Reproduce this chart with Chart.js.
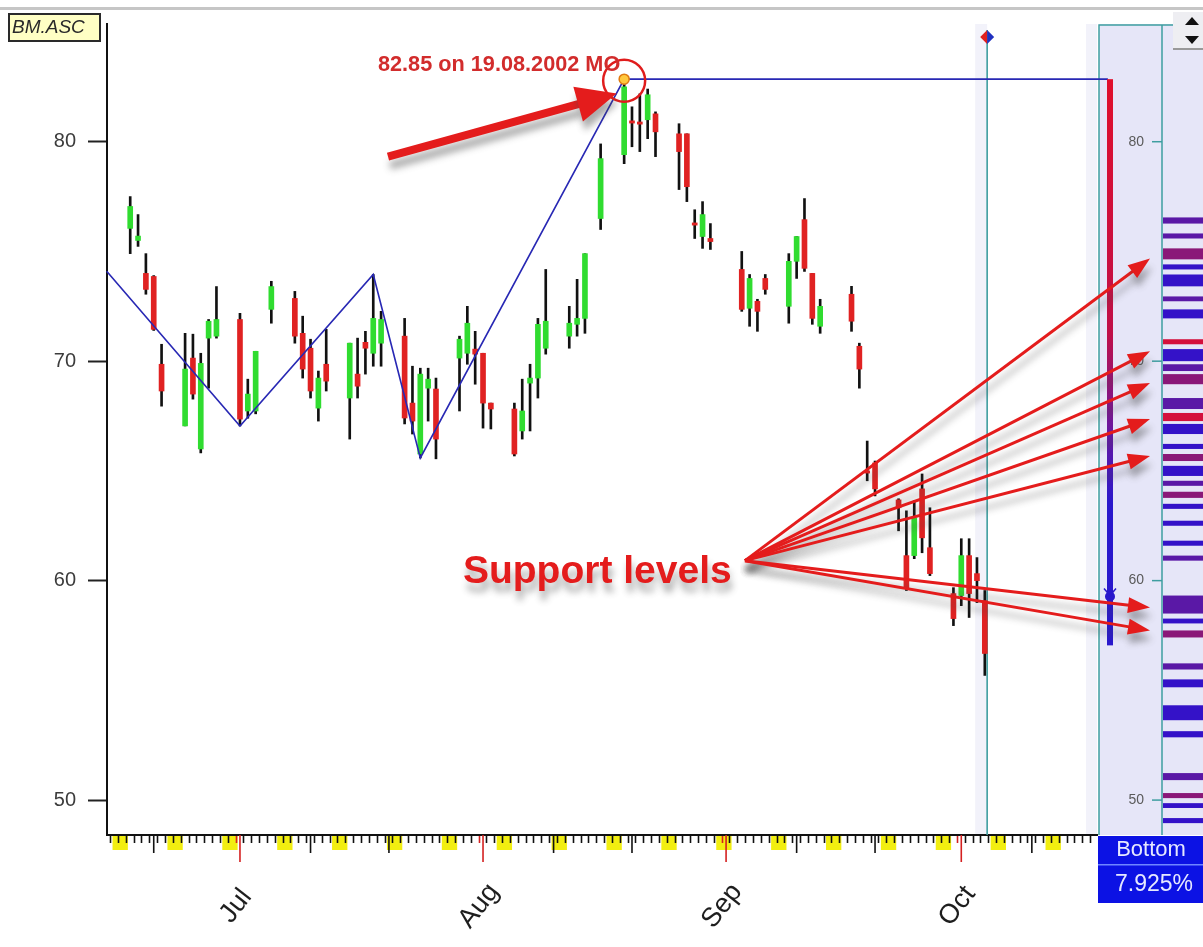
<!DOCTYPE html>
<html><head><meta charset="utf-8">
<script src="https://cdn.jsdelivr.net/npm/chart.js@4/dist/chart.umd.min.js"></script>
<style>html,body{margin:0;padding:0;background:#fff;overflow:hidden}#wrap{position:relative;width:1203px;height:947px}canvas{display:block}</style>
</head><body><div id="wrap"><canvas id="c" width="1203" height="947"></canvas></div>
<script>
// ---- DATA (x = trading day, counted in calendar days from 1 Jul 2002) ----
const tradingDays = [-14,-13,-12,-11,-10,-7,-6,-5,-4,-3,0,1,2,4,7,8,9,10,11,14,15,16,17,18,21,22,23,24,25,28,29,30,31,32,35,36,37,38,39,42,43,44,46,49,50,51,52,53,56,57,58,59,60,64,65,66,67,70,71,72,73,74,78,79,80,81,84,85,86,87,88,91,92,93,94,95];
const opens  = [76.05,75.5,74.0,73.86,69.86,67.05,70.14,66.0,71.05,71.14,71.9,67.73,67.73,72.36,72.86,71.27,70.59,67.86,69.86,68.32,69.41,70.86,70.36,70.82,71.14,68.09,65.77,68.77,68.73,70.14,70.36,70.55,70.36,68.09,67.82,66.82,69.0,69.23,70.59,71.14,71.68,71.95,76.5,79.41,80.95,80.9,81.0,81.27,80.36,80.36,76.3,75.68,75.59,74.18,72.41,72.73,73.77,72.5,74.55,76.45,74.0,71.59,73.05,70.68,65.0,65.36,63.68,61.14,61.14,64.18,61.5,59.41,59.32,61.14,60.32,59.09];
const highs  = [77.5,76.68,74.9,73.9,70.77,71.27,71.23,70.36,71.9,73.4,72.18,69.18,70.45,73.64,73.18,72.05,71.0,69.55,71.45,70.82,71.05,71.36,73.95,72.27,71.95,69.77,69.68,69.68,69.23,71.14,72.5,71.36,70.36,68.09,68.09,69.18,69.86,71.95,74.18,72.5,73.73,74.9,79.9,82.85,81.59,82.18,82.4,81.36,80.82,80.36,76.9,77.27,76.27,75.0,73.95,72.82,73.95,74.9,75.68,77.41,74.0,72.82,73.41,70.82,66.36,65.45,63.73,63.18,63.64,64.86,63.32,59.68,61.91,61.91,61.05,59.55];
const lows   = [74.9,75.23,73.05,71.4,67.95,67.05,68.27,65.82,68.77,71.05,67.05,67.4,67.6,71.73,70.82,69.23,68.32,67.27,68.64,66.45,68.32,69.41,69.77,69.77,67.14,66.68,65.59,67.27,65.55,67.73,69.86,68.95,66.95,66.91,65.68,66.45,66.82,68.32,70.32,70.59,71.14,71.27,76.0,79.0,79.77,79.55,80.14,79.32,77.82,77.27,75.59,75.14,75.09,72.27,71.59,71.36,73.05,71.73,73.77,74.09,71.68,71.27,71.36,68.77,64.55,63.86,62.27,59.55,61.0,61.27,60.23,57.95,58.86,58.32,59.0,55.68];
const closes = [77.05,75.7,73.27,71.45,68.64,69.64,68.5,69.9,71.82,71.9,67.36,68.5,70.45,73.4,71.14,69.64,68.64,69.23,69.09,70.82,68.86,70.59,71.95,71.9,67.41,67.27,69.41,69.18,66.45,71.0,71.73,70.32,68.09,67.82,65.77,67.73,69.23,71.68,71.82,71.73,71.95,74.9,79.23,82.5,80.85,80.8,82.14,80.45,79.55,77.95,76.2,76.68,75.45,72.36,73.77,72.27,73.27,74.55,75.68,74.23,71.95,72.5,71.82,69.64,64.9,64.18,63.32,59.68,62.86,61.95,60.32,58.27,61.14,59.41,60.0,56.68];

// zig-zag swing line (day, price)
const zigDays   = [-17, 0, 17, 23, 49, 110.7];
const zigPrices = [74.1, 67.05, 73.95, 65.59, 82.85, 82.85];
const peakDay = 49, peakPrice = 82.85;
const peakText = '82.85 on 19.08.2002 MO';

// axis ticks / labels
const yTickValues = [50, 60, 70, 80];
const monthStartDays = [0, 31, 62, 92];
const monthLabels = ['Jul', 'Aug', 'Sep', 'Oct'];
const cursorDay = 95.3;

// support levels pointed at by arrows (price)
const supportPrices = [74.68, 70.45, 69.0, 67.36, 65.68, 58.77, 57.73];
const supportLabel = 'Support levels';

// price-distribution histogram on the right panel
const histLo  = [76.27,75.59,74.64,74.18,73.41,72.73,71.95,70.77,70.0,69.55,68.95,67.82,67.27,66.68,66.0,65.45,64.77,64.32,63.77,63.27,62.5,61.59,60.91,58.5,58.05,57.41,55.95,55.14,53.64,52.86,50.91,50.09,49.64,48.95];
const histHi  = [76.55,75.82,75.14,74.41,73.95,72.95,72.36,71.0,70.55,69.86,69.41,68.32,67.64,67.14,66.23,65.77,65.23,64.55,64.05,63.5,62.73,61.82,61.14,59.32,58.27,57.73,56.23,55.5,54.32,53.14,51.23,50.32,49.86,49.18];
const histKind= ['P','P','M','B','B','P','B','R','B','P','M','P','R','B','B','M','B','P','M','B','B','B','P','P','B','M','P','B','B','B','P','M','B','B'];
const gaugeTop = 82.85, gaugeBottom = 57.05, gaugeMark = 59.32;
const bottomTitle = 'Bottom', bottomValue = '7.925%';
const symbolName = 'BM.ASC';
</script>
<script>
const FONT = "'Liberation Sans', Arial, sans-serif";
Chart.defaults.font.family = FONT;
const allDays = []; for (let d = -16; d <= 109; d++) allDays.push(d);
const dateOf = d => new Date(2002, 6, 1 + d);
const histColors = {B:'#3412c8', P:'#5a18a6', M:'#8a1878', R:'#d4103c'};

function arrow(ctx, x1, y1, x2, y2, w, hl, hw, color) {
  const a = Math.atan2(y2 - y1, x2 - x1);
  const bx = x2 - hl * Math.cos(a), by = y2 - hl * Math.sin(a);
  ctx.strokeStyle = color; ctx.lineWidth = w; ctx.lineCap = 'butt';
  ctx.beginPath(); ctx.moveTo(x1, y1); ctx.lineTo(bx + Math.cos(a), by + Math.sin(a)); ctx.stroke();
  ctx.fillStyle = color; ctx.beginPath();
  ctx.moveTo(x2, y2);
  ctx.lineTo(bx + hw * Math.sin(a), by - hw * Math.cos(a));
  ctx.lineTo(bx - hw * Math.sin(a), by + hw * Math.cos(a));
  ctx.closePath(); ctx.fill();
}

const deco = {
  id: 'deco',
  beforeDraw(chart) {
    const ctx = chart.ctx, xs = chart.scales.x, ys = chart.scales.y, ca = chart.chartArea;
    const W = chart.width;
    ctx.save();
    ctx.fillStyle = '#fff'; ctx.fillRect(0, 0, W, chart.height);
    ctx.fillStyle = '#c6c6c6'; ctx.fillRect(0, 7, W, 3);
    ctx.fillStyle = '#f2f2fa';
    const cx = xs.getPixelForValue(cursorDay);
    ctx.fillRect(cx - 12, ca.top, 12, ca.bottom - ca.top);
    ctx.fillRect(ca.right - 11, ca.top, 11, ca.bottom - ca.top);
    const pL = ca.right + 2, pM = pL + 63;
    ctx.fillStyle = '#e6e6f8'; ctx.fillRect(pL, ca.top, W - pL, ca.bottom - ca.top);
    for (let i = 0; i < histLo.length; i++) {
      const y1 = ys.getPixelForValue(histHi[i]), y2 = ys.getPixelForValue(histLo[i]);
      ctx.fillStyle = histColors[histKind[i]];
      ctx.fillRect(pM + 1, y1, W - pM, y2 - y1);
    }
    ctx.strokeStyle = '#3e9ea0'; ctx.lineWidth = 1.5;
    ctx.beginPath();
    ctx.moveTo(pL, ca.bottom); ctx.lineTo(pL, ca.top + 1); ctx.lineTo(pM + 12, ca.top + 1);
    ctx.moveTo(pM, ca.top + 1); ctx.lineTo(pM, ca.bottom);
    ctx.stroke();
    ctx.font = '14px ' + FONT; ctx.fillStyle = '#5a5a5a'; ctx.textAlign = 'right'; ctx.textBaseline = 'middle';
    yTickValues.forEach(v => {
      const y = ys.getPixelForValue(v);
      ctx.fillText(String(v), pM - 18, y);
      ctx.beginPath(); ctx.moveTo(pM - 10, y); ctx.lineTo(pM, y); ctx.stroke();
    });
    ctx.fillStyle = '#eeeef2'; ctx.fillRect(W - 30, 12, 30, 38);
    ctx.fillStyle = '#999'; ctx.fillRect(W - 30, 48, 30, 2);
    ctx.fillStyle = '#111';
    ctx.beginPath(); ctx.moveTo(W - 18, 25); ctx.lineTo(W - 4, 25); ctx.lineTo(W - 11, 17); ctx.closePath(); ctx.fill();
    ctx.beginPath(); ctx.moveTo(W - 18, 36); ctx.lineTo(W - 4, 36); ctx.lineTo(W - 11, 44); ctx.closePath(); ctx.fill();
    ctx.fillStyle = '#0c12e4'; ctx.fillRect(pL - 1, ca.bottom + 1, W - pL + 1, 67);
    ctx.fillStyle = '#6f86ff'; ctx.fillRect(pL - 1, ca.bottom + 29, W - pL + 1, 1.5);
    ctx.fillStyle = '#e6e8ff'; ctx.textAlign = 'center'; ctx.textBaseline = 'middle';
    ctx.font = '22px ' + FONT;
    ctx.fillText(bottomTitle, pL + 52, ca.bottom + 15);
    ctx.font = '23px ' + FONT;
    ctx.fillText(bottomValue, pL + 55, ca.bottom + 50);
    ctx.fillStyle = '#ffffc4'; ctx.fillRect(9, 14, 91, 27);
    ctx.strokeStyle = '#2a2a2a'; ctx.lineWidth = 2; ctx.strokeRect(9, 14, 91, 27);
    ctx.fillStyle = '#2a2a2a'; ctx.textAlign = 'left';
    ctx.font = 'italic 19px ' + FONT; ctx.fillText(symbolName, 12, 28);
    ctx.fillStyle = '#f2ee10';
    allDays.forEach(d => {
      if (dateOf(d).getDay() === 6) {
        const x1 = xs.getPixelForValue(d) - 2, x2 = xs.getPixelForValue(d + 1) + 5.5;
        ctx.fillRect(x1, ca.bottom + 1, x2 - x1, 14);
      }
    });
    ctx.restore();
  },
  beforeDatasetsDraw(chart) {
    const ctx = chart.ctx, xs = chart.scales.x, ca = chart.chartArea;
    const cx = xs.getPixelForValue(cursorDay);
    ctx.save();
    ctx.strokeStyle = '#3e9ea0'; ctx.lineWidth = 1.6;
    ctx.beginPath(); ctx.moveTo(cx, 30); ctx.lineTo(cx, ca.bottom); ctx.stroke();
    ctx.restore();
  },
  afterDraw(chart) {
    const ctx = chart.ctx, xs = chart.scales.x, ys = chart.scales.y, ca = chart.chartArea;
    const X = v => xs.getPixelForValue(v), Y = v => ys.getPixelForValue(v);
    ctx.save();
    allDays.forEach(d => {
      const dt = dateOf(d).getDate();
      if (dt === 1 || dt === 10 || dt === 20) {
        ctx.strokeStyle = dt === 1 ? '#d42020' : '#111'; ctx.lineWidth = 1.6;
        ctx.beginPath(); ctx.moveTo(X(d), ca.bottom); ctx.lineTo(X(d), ca.bottom + (dt === 1 ? 27 : 18)); ctx.stroke();
      }
    });
    ctx.fillStyle = '#1e1e1e'; ctx.font = '27px ' + FONT; ctx.textAlign = 'center'; ctx.textBaseline = 'middle';
    monthStartDays.forEach((d, i) => {
      ctx.save(); ctx.translate(X(d) - 4, 906); ctx.rotate(-52 * Math.PI / 180);
      ctx.fillText(monthLabels[i], 0, 0); ctx.restore();
    });
    const gx = ca.right + 13;
    const g1 = Y(gaugeTop), g2 = Y(gaugeBottom);
    const grad = ctx.createLinearGradient(0, g1, 0, g2);
    grad.addColorStop(0, '#e0102c'); grad.addColorStop(0.45, '#c01048'); grad.addColorStop(0.62, '#6a18a0'); grad.addColorStop(0.75, '#2a18cc'); grad.addColorStop(1, '#2a18cc');
    ctx.fillStyle = grad; ctx.fillRect(gx - 3, g1, 6, g2 - g1);
    ctx.fillStyle = '#2a18cc'; ctx.beginPath(); ctx.arc(gx, Y(gaugeMark) + 1, 5, 0, Math.PI * 2); ctx.fill();
    ctx.strokeStyle = '#2a18cc'; ctx.lineWidth = 1.5;
    ctx.beginPath(); ctx.moveTo(gx - 6, Y(gaugeMark) - 7); ctx.lineTo(gx, Y(gaugeMark)); ctx.lineTo(gx + 6, Y(gaugeMark) - 7); ctx.stroke();
    const cx = X(cursorDay);
    ctx.fillStyle = '#e02020'; ctx.beginPath(); ctx.moveTo(cx, 30); ctx.lineTo(cx - 7, 37); ctx.lineTo(cx, 44); ctx.closePath(); ctx.fill();
    ctx.fillStyle = '#2030c0'; ctx.beginPath(); ctx.moveTo(cx, 30); ctx.lineTo(cx + 7, 37); ctx.lineTo(cx, 44); ctx.closePath(); ctx.fill();
    const ox = X(64.41), oy = Y(60.91), tx = X(116.07);
    ctx.shadowColor = 'rgba(70,70,70,0.45)'; ctx.shadowBlur = 7; ctx.shadowOffsetX = 2; ctx.shadowOffsetY = 9;
    supportPrices.forEach(p => arrow(ctx, ox, oy, tx, Y(p), 3, 22, 8, '#e41c1c'));
    arrow(ctx, X(18.88), Y(79.32), X(48.05), Y(82.2), 8, 40, 18, '#e41c1c');
    ctx.fillStyle = '#e41c1c'; ctx.textAlign = 'left'; ctx.textBaseline = 'alphabetic';
    ctx.font = 'bold 39px ' + FONT;
    ctx.fillText(supportLabel, X(28.44), Y(59.91));
    ctx.shadowColor = 'transparent'; ctx.shadowBlur = 0; ctx.shadowOffsetX = 0; ctx.shadowOffsetY = 0;
    ctx.fillStyle = '#d22c2c'; ctx.font = 'bold 21.7px ' + FONT;
    ctx.fillText(peakText, X(17.6), Y(83.23));
    ctx.restore();
  }
};

const candleColors = opens.map((o, i) => closes[i] >= o ? '#30dc30' : '#e02222');

new Chart(document.getElementById('c'), {
  type: 'bar',
  data: {
    datasets: [
      { type: 'scatter', data: [{x: peakDay, y: peakPrice}], pointRadius: 5, pointBackgroundColor: '#ffc83c', pointBorderColor: '#e07a10', pointBorderWidth: 1.5, order: -3, clip: false },
      { type: 'scatter', data: [{x: peakDay, y: peakPrice - 0.07}], pointRadius: 21, pointBackgroundColor: 'rgba(0,0,0,0)', pointBorderColor: '#e01c1c', pointBorderWidth: 2.5, order: -2, clip: false },
      { type: 'line', data: zigDays.map((d, i) => ({x: d, y: zigPrices[i]})), borderColor: '#2828b4', borderWidth: 1.6, pointRadius: 0, tension: 0, order: -1, clip: {left: 1, top: 5, right: 20, bottom: 0} },
      { data: tradingDays.map((d, i) => ({x: d, y: [opens[i], closes[i]]})), backgroundColor: candleColors, barThickness: 5, grouped: false, order: 1 },
      { data: tradingDays.map((d, i) => ({x: d, y: [lows[i], highs[i]]})), backgroundColor: '#111', barThickness: 2, grouped: false, order: 2 }
    ]
  },
  options: {
    responsive: false, animation: false, events: [],
    layout: { padding: { left: 0, top: 22, right: 106, bottom: 0 } },
    plugins: { legend: { display: false }, tooltip: { enabled: false } },
    scales: {
      x: {
        type: 'linear', min: -16.96, max: 109.31, offset: false,
        afterBuildTicks: s => { s.ticks = allDays.map(v => ({value: v})); },
        afterFit: s => { s.height = 112; },
        ticks: { display: false, autoSkip: false },
        grid: { drawOnChartArea: false, tickLength: 8, tickWidth: 1.6, tickColor: c => (c.tick && dateOf(c.tick.value).getDate() === 1 ? '#d42020' : '#111') },
        border: { color: '#111', width: 2 }
      },
      y: {
        type: 'linear', min: 48.409, max: 85.364,
        afterBuildTicks: s => { s.ticks = yTickValues.map(v => ({value: v})); },
        afterFit: s => { s.width = 107; },
        ticks: { font: { size: 20 }, color: '#3c3c3c', padding: 12 },
        grid: { drawOnChartArea: false, tickLength: 19, tickWidth: 2, tickColor: '#222' },
        border: { color: '#111', width: 2 }
      }
    }
  },
  plugins: [deco]
});
</script>
</body></html>
